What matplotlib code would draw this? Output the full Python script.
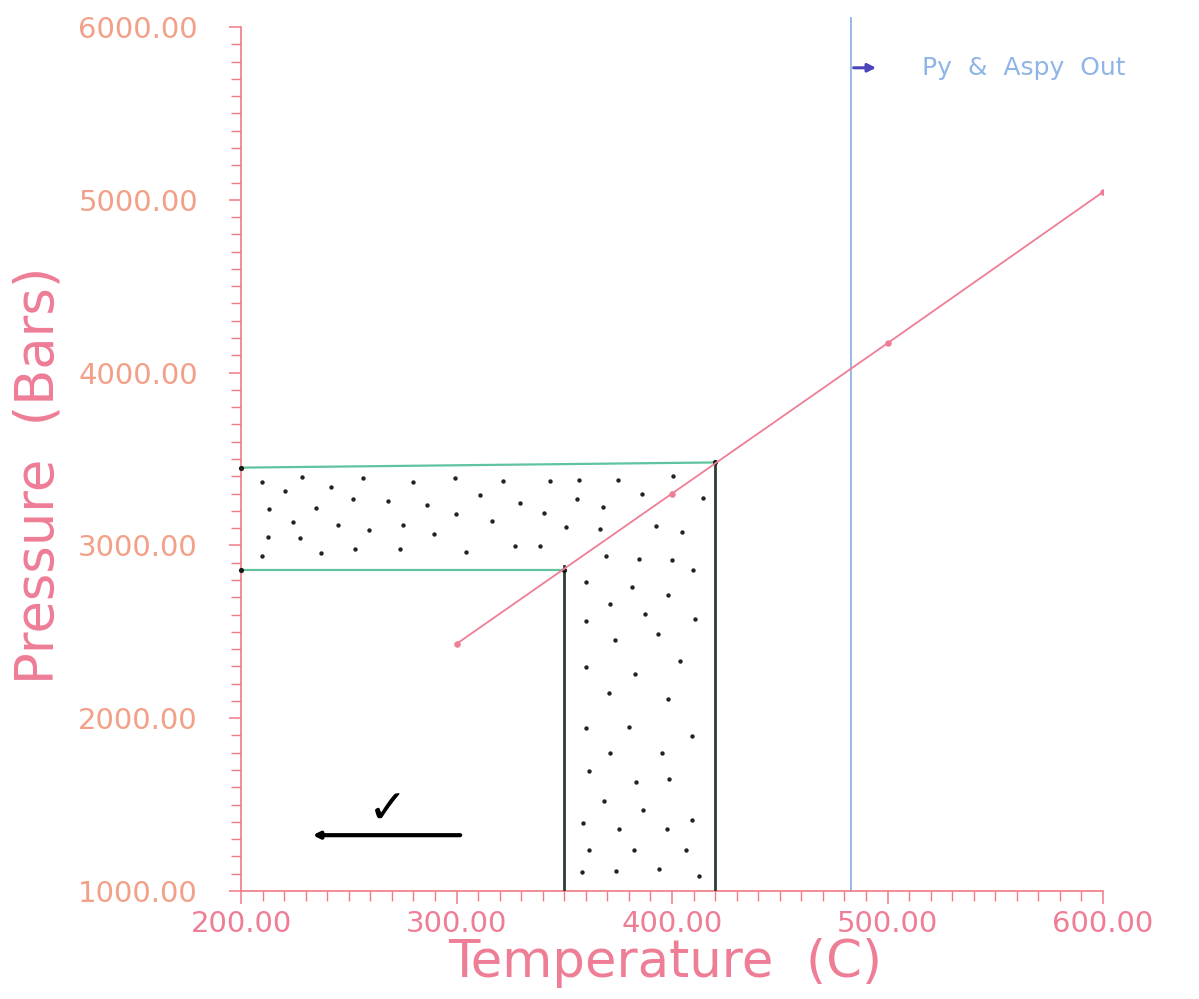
import matplotlib
matplotlib.use("Agg")
import matplotlib.pyplot as plt
from matplotlib.ticker import MultipleLocator, FormatStrFormatter

# Reaction curve: temperature (C) vs pressure (bars)
temperature = [300, 400, 500, 600]
pressure = [2430, 3300, 4170, 5045]

# Stability field outlines
band_top_left = (200, 3450)
band_top_right = (420, 3480)
band_bottom_y = 2860
inner_x = 350
outer_x = 420
py_out_t = 483

# Stipple points filling the L-shaped field (T, P)
stipple_t = [
    209.9, 228.2, 220.4, 241.8, 256.8, 279.7, 299.3, 321.4, 343.4, 357.0,
    375.1, 400.6, 386.2, 414.2, 252.1, 268.4, 213.0, 234.7, 286.2, 311.0,
    329.5, 356.1, 368.1, 340.7, 299.6, 224.0, 245.2, 259.4, 275.3, 316.6,
    289.6, 350.8, 366.6, 392.4, 404.5, 212.7, 227.4, 209.9, 237.1, 252.9,
    273.8, 304.3, 327.1, 338.7, 369.2, 384.7, 399.9, 409.9, 360.0, 381.3,
    398.3, 371.4, 387.5, 360.1, 410.7, 393.4, 373.7, 403.6, 360.2, 382.8,
    370.6, 398.3, 360.0, 380.0, 409.1, 371.4, 395.3, 361.6, 383.1, 398.7,
    368.4, 386.4, 358.6, 375.4, 397.7, 409.4, 361.5, 382.4, 406.4, 358.4,
    374.0, 394.0, 412.5,
]
stipple_p = [
    3369, 3396, 3312, 3339, 3391, 3367, 3391, 3373, 3373, 3379,
    3377, 3404, 3298, 3277, 3269, 3259, 3210, 3218, 3235, 3292,
    3247, 3267, 3223, 3185, 3181, 3135, 3116, 3089, 3116, 3143,
    3064, 3104, 3095, 3110, 3077, 3047, 3041, 2939, 2956, 2979,
    2977, 2964, 2999, 2995, 2937, 2924, 2918, 2856, 2789, 2759,
    2711, 2659, 2605, 2562, 2572, 2489, 2453, 2332, 2296, 2255,
    2143, 2114, 1941, 1951, 1895, 1797, 1801, 1692, 1632, 1649,
    1521, 1467, 1394, 1356, 1361, 1409, 1236, 1236, 1236, 1108,
    1115, 1125, 1088,
]

x_ticks = [200, 300, 400, 500, 600]
y_ticks = [1000, 2000, 3000, 4000, 5000, 6000]

PINK = "#ee7d96"
SALMON = "#f3a088"
AXIS = "#f07a86"
GREEN = "#5fc3a0"
DARK = "#2c3d33"
LIGHT_BLUE = "#8fb4e6"
FONT = ["DejaVu Sans"]

fig = plt.figure(figsize=(11.99, 9.99), dpi=100)
ax = fig.add_axes([241 / 1199, 108 / 999, 862 / 1199, 864 / 999])
ax.set_xlim(200, 600)
ax.set_ylim(1000, 6000)

for side in ("top", "right"):
    ax.spines[side].set_visible(False)
for side in ("left", "bottom"):
    ax.spines[side].set_color(AXIS)
    ax.spines[side].set_linewidth(1.2)

ax.set_xticks(x_ticks)
ax.set_yticks(y_ticks)
ax.xaxis.set_minor_locator(MultipleLocator(10))
ax.yaxis.set_minor_locator(MultipleLocator(100))
ax.xaxis.set_major_formatter(FormatStrFormatter("%.2f"))
ax.yaxis.set_major_formatter(FormatStrFormatter("%.2f"))
ax.tick_params(axis="both", which="major", direction="out", length=9,
               width=1.1, color=AXIS)
ax.tick_params(axis="both", which="minor", direction="out", length=7,
               width=1.0, color=AXIS)
ax.tick_params(axis="x", which="major", pad=5, labelsize=21, labelcolor=PINK)
ax.tick_params(axis="y", which="major", pad=22, labelsize=21, labelcolor=SALMON)
for lab in ax.get_xticklabels() + ax.get_yticklabels():
    lab.set_family(FONT)

ax.set_xlabel("Temperature  (C)", fontsize=37, color=PINK, family=FONT)
ax.set_ylabel("Pressure  (Bars)", fontsize=38, color=PINK, family=FONT)
ax.xaxis.set_label_coords(0.492, -0.083)
ax.xaxis.label.set_va("center")
ax.yaxis.set_label_coords(-0.235, 0.481)
ax.yaxis.label.set_va("center")

# Stipple fill
ax.scatter(stipple_t, stipple_p, s=10, color="#222222", zorder=2, linewidths=0)

# Field outlines
ax.plot([band_top_left[0], band_top_right[0]],
        [band_top_left[1], band_top_right[1]], color=GREEN, lw=1.6, zorder=3)
ax.plot([200, inner_x], [band_bottom_y, band_bottom_y], color=GREEN, lw=1.6,
        zorder=3)
ax.plot([inner_x, inner_x], [1000, band_bottom_y + 20], color=DARK, lw=2.0,
        zorder=3)
ax.plot([outer_x, outer_x], [1000, band_top_right[1]], color=DARK, lw=2.0,
        zorder=3)
ax.scatter([band_top_left[0], band_top_right[0], 200, inner_x],
           [band_top_left[1], band_top_right[1], band_bottom_y, band_bottom_y],
           s=14, color="#1a1a1a", zorder=4, clip_on=False, linewidths=0)

# Reaction curve
ax.plot(temperature, pressure, color=PINK, lw=1.3, zorder=5)
ax.scatter(temperature, pressure, s=22, color=PINK, zorder=6, linewidths=0)

# Pyrite / arsenopyrite out line
ax.plot([py_out_t, py_out_t], [1000, 6050], color=LIGHT_BLUE, lw=1.3,
        clip_on=False, zorder=1)
ax.annotate("", xy=(496, 5764), xytext=(483, 5764),
            arrowprops=dict(arrowstyle="-|>", color="#4a45b8", lw=2.2,
                            mutation_scale=12))
ax.text(516, 5764, "Py  &  Aspy  Out", fontsize=18, color=LIGHT_BLUE,
        family=FONT, va="center", ha="left")

# Direction marker with check
ax.annotate("", xy=(232, 1323), xytext=(303, 1323),
            arrowprops=dict(arrowstyle="-|>", color="black", lw=3,
                            mutation_scale=9))
ax.text(268, 1330, "\u2713", fontsize=34, color="black",
        family=["DejaVu Sans"], fontweight="bold", ha="center", va="bottom")

fig.savefig("out.png", dpi=100, facecolor="white")
